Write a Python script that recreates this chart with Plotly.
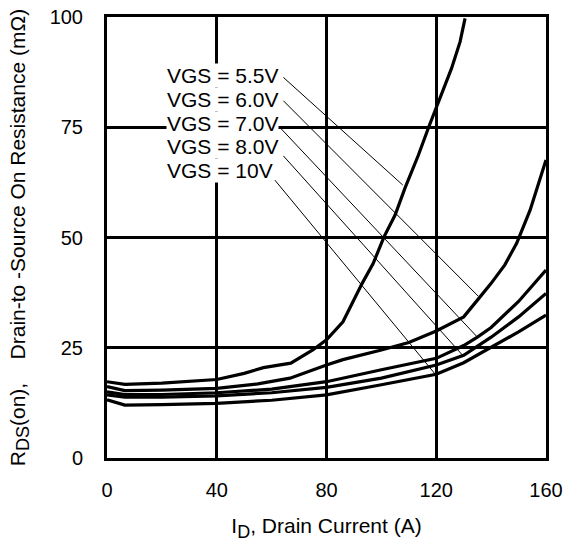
import plotly.graph_objects as go

# ---- data ----
x_55 = [0, 6.5, 20, 40, 50, 57, 67, 75, 80, 86, 93, 97, 101, 105, 108.6, 113.5, 117.4, 120.8, 125.6, 128.7, 130.5]
y_55 = [17.3, 16.7, 17.0, 17.8, 19.2, 20.5, 21.5, 24.5, 26.8, 30.9, 39.6, 44.1, 50.2, 55.1, 61.2, 68.7, 75.3, 80.8, 88.4, 94.4, 99.7]

x_60 = [0, 6.5, 20, 40, 55, 66.7, 80, 86, 100, 110, 120, 130, 135, 140, 145, 149.3, 154.2, 160]
y_60 = [16.2, 15.3, 15.4, 15.8, 16.8, 18.1, 21.1, 22.3, 24.5, 26.2, 28.8, 32.0, 35.8, 39.6, 43.8, 48.7, 56.2, 67.6]

x_70 = [0, 6.5, 20, 40, 60, 80, 100, 120, 130, 135, 140, 150, 160]
y_70 = [15.0, 14.4, 14.4, 14.8, 15.6, 17.3, 20.0, 22.6, 25.5, 27.4, 29.6, 35.5, 42.6]

x_80 = [0, 6.5, 20, 40, 60, 80, 100, 120, 130, 140, 150, 160]
y_80 = [14.3, 13.8, 13.8, 14.1, 14.8, 16.0, 18.1, 21.1, 23.3, 27.4, 32.0, 37.3]

x_10 = [0, 6.5, 20, 40, 60, 80, 100, 120, 130, 140, 150, 160]
y_10 = [13.2, 12.0, 12.1, 12.4, 13.1, 14.3, 16.6, 19.0, 21.6, 25.1, 28.6, 32.4]

labels = ["VGS = 5.5V", "VGS = 6.0V", "VGS = 7.0V", "VGS = 8.0V", "VGS = 10V"]
label_x = 21.5
label_y = [86.7, 81.2, 75.9, 70.6, 65.1]
leader_start_x = [64.3, 64.3, 62.8, 64.3, 61.2]
leader_start_y = [86.3, 81.0, 75.1, 68.5, 63.0]
leader_end_x = [107.8, 135.3, 135.0, 129.9, 119.9]
leader_end_y = [61.9, 36.7, 27.4, 23.1, 18.8]

x_ticks = [0, 40, 80, 120, 160]
y_ticks = [0, 25, 50, 75, 100]

FONT = "Liberation Sans, Arial, Helvetica, sans-serif"

fig = go.Figure()

for xs, ys in [(x_55, y_55), (x_60, y_60), (x_70, y_70), (x_80, y_80), (x_10, y_10)]:
    fig.add_trace(go.Scatter(x=xs, y=ys, mode="lines",
                             line=dict(color="black", width=3.2),
                             showlegend=False, hoverinfo="skip"))

for sx, sy, ex, ey in zip(leader_start_x, leader_start_y, leader_end_x, leader_end_y):
    fig.add_trace(go.Scatter(x=[sx, ex], y=[sy, ey], mode="lines",
                             line=dict(color="black", width=1),
                             showlegend=False, hoverinfo="skip"))

for txt, ly in zip(labels, label_y):
    fig.add_annotation(x=label_x, y=ly, xref="x", yref="y", text=txt,
                       showarrow=False, xanchor="left", yanchor="middle",
                       bgcolor="white", borderpad=0,
                       font=dict(family=FONT, size=21, color="black"))

fig.update_xaxes(range=[0, 160], tickvals=x_ticks, ticktext=[str(v) for v in x_ticks],
                 showgrid=True, gridcolor="black", gridwidth=3,
                 showline=True, linecolor="black", linewidth=3, mirror=True,
                 zeroline=False, ticks="", ticklabelstandoff=12, ticklabeloverflow="allow",
                 tickfont=dict(family=FONT, size=20, color="black"),
                 title=dict(text="I<sub><span style='font-size:18px'>D</span></sub>, Drain Current (A)",
                            font=dict(family=FONT, size=21, color="black"), standoff=19))
fig.update_yaxes(range=[0, 100], tickvals=y_ticks, ticktext=[str(v) for v in y_ticks],
                 showgrid=True, gridcolor="black", gridwidth=3,
                 showline=True, linecolor="black", linewidth=3, mirror=True,
                 zeroline=False, ticks="", ticklabelstandoff=17, ticklabeloverflow="allow",
                 tickfont=dict(family=FONT, size=20, color="black"),
                 title=dict(text="R<sub><span style='font-size:18px'>DS</span></sub>(on),&nbsp;&nbsp;&nbsp; Drain-to -Source On Resistance (mΩ)",
                            font=dict(family=FONT, size=21, color="black"), standoff=19))

fig.update_layout(width=567, height=542,
                  margin=dict(l=107, r=21, t=17, b=84, autoexpand=False),
                  plot_bgcolor="white", paper_bgcolor="white")

fig.write_html("out.html", config={"displayModeBar": False},
               post_script="document.body.style.margin='0';document.body.style.overflow='hidden';")
